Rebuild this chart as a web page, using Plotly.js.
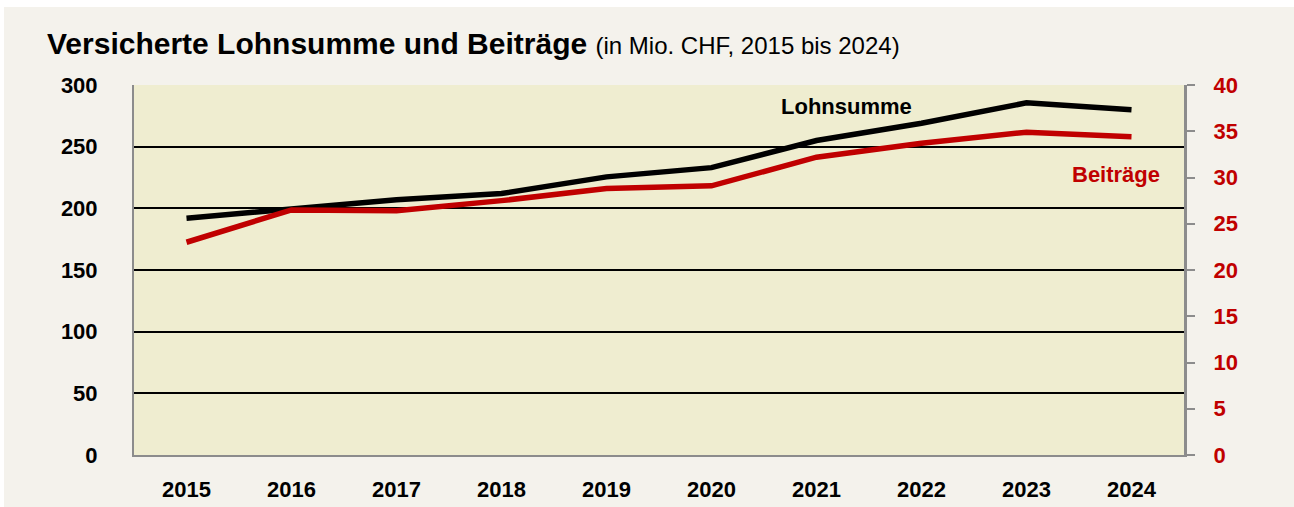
<!DOCTYPE html>
<html><head><meta charset="utf-8">
<script src="https://cdn.plot.ly/plotly-3.0.1.min.js"></script>
<style>
html,body{margin:0;padding:0;background:#ffffff;}
#chart{position:absolute;left:4px;top:7px;width:1290px;height:500px;}
</style></head>
<body><div id="chart"></div>
<script>
const years = ['2015','2016','2017','2018','2019','2020','2021','2022','2023','2024'];
const lohnsumme = [192, 200, 207, 212, 225.5, 233, 255, 269, 285.5, 280];
const beitraege = [23.0, 26.5, 26.4, 27.5, 28.8, 29.1, 32.2, 33.7, 34.9, 34.4];
const leftTicks = [0, 50, 100, 150, 200, 250, 300];
const rightTicks = [0, 5, 10, 15, 20, 25, 30, 35, 40];

const FONT = 'Liberation Sans, Arial, sans-serif';
const RED = '#C00000';

const traces = [
  {x: years, y: lohnsumme, type: 'scatter', mode: 'lines', name: 'Lohnsumme',
   line: {color: '#000000', width: 5.5}, yaxis: 'y'},
  {x: years, y: beitraege, type: 'scatter', mode: 'lines', name: 'Beiträge',
   line: {color: RED, width: 5.5}, yaxis: 'y2'}
];

const layout = {
  width: 1290, height: 500,
  margin: {l: 130, r: 110, t: 78, b: 52},
  paper_bgcolor: '#F4F2EC',
  plot_bgcolor: '#EFEDD0',
  showlegend: false,
  font: {family: FONT, color: '#000'},
  title: {
    text: '<b>Versicherte Lohnsumme und Beiträge</b> <span style="font-size:24px">(in Mio. CHF, 2015 bis 2024)</span>',
    font: {family: FONT, size: 30, color: '#000'},
    x: 43/1290, xanchor: 'left', xref: 'container',
    y: 1 - 36/500, yanchor: 'middle', yref: 'container'
  },
  xaxis: {
    type: 'category', range: [-0.5, 9.5],
    showgrid: false, zeroline: false,
    showline: true, linecolor: '#8C8C8C', linewidth: 2, mirror: false,
    ticks: '', ticklabelstandoff: 14,
    tickfont: {family: FONT, size: 22, color: '#000', weight: 'bold'},
    fixedrange: true
  },
  yaxis: {
    range: [0, 300], tickvals: leftTicks, ticktext: leftTicks.map(String),
    showgrid: true, gridcolor: '#000000', gridwidth: 2,
    zeroline: false,
    showline: true, linecolor: '#8C8C8C', linewidth: 2,
    ticks: '', ticklabelstandoff: 30,
    tickfont: {family: FONT, size: 22, color: '#000', weight: 'bold'},
    fixedrange: true
  },
  yaxis2: {
    range: [0, 40], tickvals: rightTicks, ticktext: rightTicks.map(String),
    overlaying: 'y', side: 'right',
    showgrid: false, zeroline: false,
    showline: true, linecolor: '#8C8C8C', linewidth: 3,
    ticks: 'outside', ticklen: 8, tickwidth: 2, tickcolor: '#8C8C8C',
    ticklabelstandoff: 14,
    tickfont: {family: FONT, size: 22, color: RED, weight: 'bold'},
    fixedrange: true
  },
  annotations: [
    {text: '<b>Lohnsumme</b>', xref: 'paper', yref: 'paper', x: 0.679, y: 0.943,
     xanchor: 'center', yanchor: 'middle',
     showarrow: false, font: {family: FONT, size: 22, color: '#000'}},
    {text: '<b>Beiträge</b>', xref: 'paper', yref: 'paper', x: 0.935, y: 0.759,
     xanchor: 'center', yanchor: 'middle',
     showarrow: false, font: {family: FONT, size: 22, color: RED}}
  ]
};

Plotly.newPlot('chart', traces, layout, {displayModeBar: false, staticPlot: true});
</script></body></html>
